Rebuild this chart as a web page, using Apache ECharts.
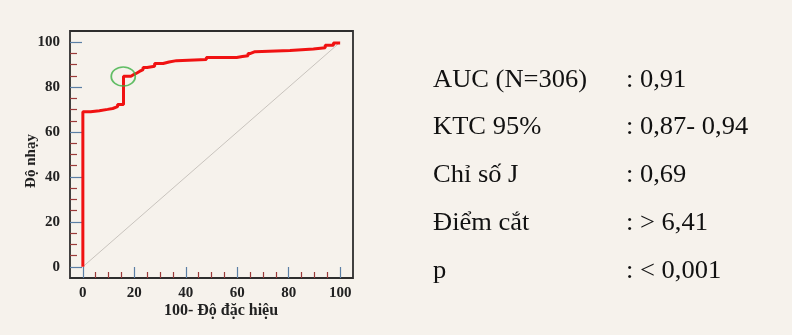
<!DOCTYPE html>
<html>
<head>
<meta charset="utf-8">
<script src="https://cdn.jsdelivr.net/npm/echarts@6/dist/echarts.min.js"></script>
<style>
html,body{margin:0;padding:0;background:#f6f2ec;}
#chart{width:792px;height:335px;}
</style>
</head>
<body>
<div id="chart"></div>
<script>
// ROC curve points (100 - specificity, sensitivity)
const fpr = [0, 0, 3, 6.4, 9.6, 11.6, 13.5, 15.8, 18.7, 19.8, 21, 22, 23.4, 25, 27.9, 31.2, 33.5, 36.4, 48, 59.8, 62, 64.2, 65.2, 66.9, 80.5, 89.6, 94.2, 97.4, 100];
const tpr = [0, 69, 69.5, 70.1, 70.5, 71.3, 72.3, 84.8, 85.6, 86.3, 87, 87.8, 88.7, 89.3, 90.5, 91.2, 91.8, 92.3, 93.2, 93.6, 94, 95, 95.8, 96.3, 97, 97.5, 98.7, 99.7, 100];
// reference diagonal
const diagX = [0, 100];
const diagY = [0, 100];
// cut-off point (circled)
const cutoff = [15.7, 84.7];
// ticks
const majorTicks = [0, 20, 40, 60, 80, 100];
const minorTicks = [5, 10, 15, 25, 30, 35, 45, 50, 55, 65, 70, 75, 85, 90, 95];
// axis titles
const xTitle = '100- Độ đặc hiệu';
const yTitle = 'Độ nhạy';
// statistics panel
const statLabels = ['AUC (N=306)', 'KTC 95%', 'Chỉ số J', 'Điểm cắt', 'p'];
const statValues = [': 0,91', ': 0,87- 0,94', ': 0,69', ': > 6,41', ': < 0,001'];

const chart = echarts.init(document.getElementById('chart'), null, {renderer: 'canvas'});
const SERIF = '"Liberation Serif", "Times New Roman", serif';
const majorColor = '#5b7fa6';
const minorColor = '#9b3a3a';

function axisCommon() {
  return {
    type: 'value', min: -5, max: 105,
    axisLine: {show: false, onZero: false},
    splitLine: {show: false}
  };
}

const statGraphics = [];
statLabels.forEach((s, i) => {
  const y = 80 + i * 47.8;
  statGraphics.push({
    type: 'text', x: 433, y: y, scaleX: 1.06,
    style: {text: s, font: '25px ' + SERIF, fill: '#111', align: 'left', verticalAlign: 'middle'}
  });
  statGraphics.push({
    type: 'text', x: 626, y: y, scaleX: 1.06,
    style: {text: statValues[i], font: '25px ' + SERIF, fill: '#111', align: 'left', verticalAlign: 'middle'}
  });
});

const option = {
  backgroundColor: '#f6f2ec',
  animation: false,
  grid: {left: 70, top: 31, right: 439, bottom: 57, show: true, borderColor: '#2e2e2e', borderWidth: 1.8, backgroundColor: 'transparent'},
  xAxis: [
    Object.assign(axisCommon(), {
      position: 'bottom',
      axisTick: {show: true, inside: true, length: 11, lineStyle: {color: majorColor, width: 1.2}, customValues: majorTicks},
      axisLabel: {show: true, customValues: majorTicks, margin: 8, fontFamily: SERIF, fontWeight: 'bold', fontSize: 15, color: '#222'}
    }),
    Object.assign(axisCommon(), {
      position: 'bottom',
      axisTick: {show: true, inside: true, length: 6, lineStyle: {color: minorColor, width: 1.2}, customValues: minorTicks},
      axisLabel: {show: false}
    })
  ],
  yAxis: [
    Object.assign(axisCommon(), {
      position: 'left',
      axisTick: {show: true, inside: true, length: 12, lineStyle: {color: majorColor, width: 1.2}, customValues: majorTicks},
      axisLabel: {show: true, customValues: majorTicks, margin: 10, fontFamily: SERIF, fontWeight: 'bold', fontSize: 15, color: '#222'}
    }),
    Object.assign(axisCommon(), {
      position: 'left',
      axisTick: {show: true, inside: true, length: 7, lineStyle: {color: minorColor, width: 1.2}, customValues: minorTicks},
      axisLabel: {show: false}
    })
  ],
  series: [
    {
      type: 'line', xAxisIndex: 0, yAxisIndex: 0,
      data: diagX.map((x, i) => [x, diagY[i]]),
      showSymbol: false, symbol: 'none',
      lineStyle: {color: '#c9c4be', width: 1}, z: 2
    },
    {
      type: 'line', xAxisIndex: 0, yAxisIndex: 0,
      data: fpr.map((x, i) => [x, tpr[i]]),
      step: 'end', showSymbol: false, symbol: 'none',
      lineStyle: {color: '#f01212', width: 3}, z: 3
    },
    {
      type: 'scatter', xAxisIndex: 0, yAxisIndex: 0,
      data: [cutoff],
      symbol: 'circle', symbolSize: [24, 19],
      itemStyle: {color: 'transparent', borderColor: '#3cb043', borderWidth: 1.6}, z: 4
    }
  ],
  graphic: [
    {type: 'text', x: 221, y: 311,
     style: {text: xTitle, font: 'bold 16px ' + SERIF, fill: '#222', align: 'center', verticalAlign: 'middle'}},
    {type: 'text', rotation: Math.PI / 2, x: 31, y: 161,
     style: {text: yTitle, font: 'bold 15px ' + SERIF, fill: '#222', align: 'center', verticalAlign: 'middle'}}
  ].concat(statGraphics)
};
chart.setOption(option);
</script>
</body>
</html>
